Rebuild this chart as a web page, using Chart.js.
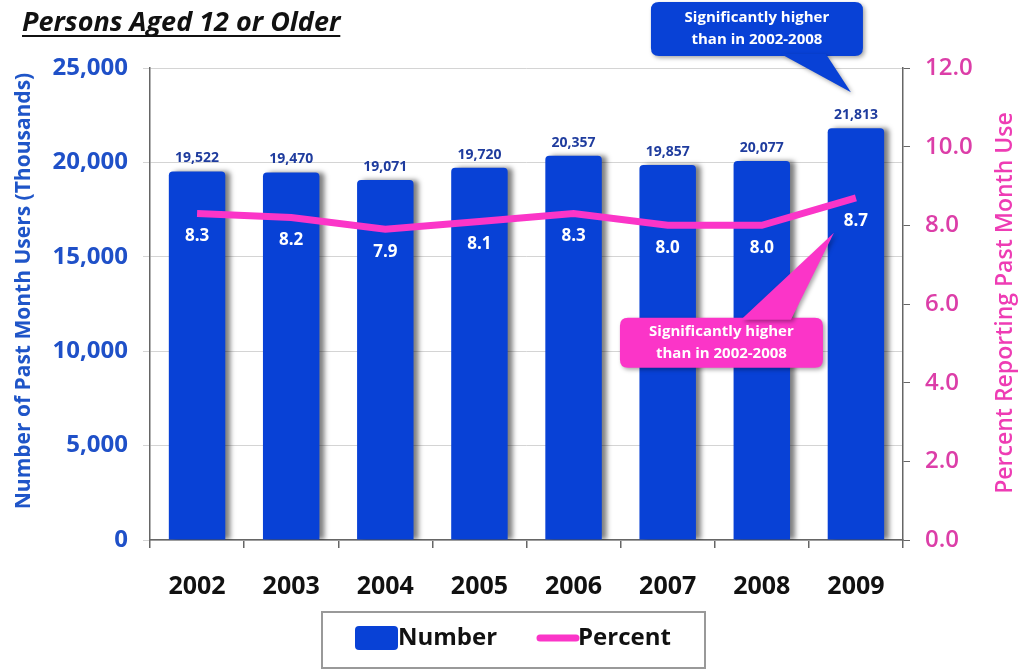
<!DOCTYPE html>
<html>
<head>
<meta charset="utf-8">
<script src="https://cdn.jsdelivr.net/npm/chart.js@4/dist/chart.umd.min.js"></script>
<style>
  html, body { margin: 0; padding: 0; background: #fff; }
  #wrap { width: 1023px; height: 669px; position: relative; }
</style>
</head>
<body>
<div id="wrap"><canvas id="usersChart"></canvas></div>
<script>
const years = ["2002", "2003", "2004", "2005", "2006", "2007", "2008", "2009"];
const numberUsers = [19522, 19470, 19071, 19720, 20357, 19857, 20077, 21813];
const percentUsers = [8.3, 8.2, 7.9, 8.1, 8.3, 8.0, 8.0, 8.7];
const leftTicks = [0, 5000, 10000, 15000, 20000, 25000];
const rightTicks = [0, 2, 4, 6, 8, 10, 12];
const titleText = "Persons Aged 12 or Older";
const leftTitle = "Number of Past Month Users (Thousands)";
const rightTitle = "Percent Reporting Past Month Use";
const calloutText = ["Significantly higher", "than in 2002-2008"];

const BLUE = "#0841d6";
const PINK = "#fb35c8";
const FONT = "'Open Sans', sans-serif";

function roundRect(ctx, x, y, w, h, r) {
    ctx.beginPath();
    ctx.moveTo(x + r, y);
    ctx.lineTo(x + w - r, y);
    ctx.quadraticCurveTo(x + w, y, x + w, y + r);
    ctx.lineTo(x + w, y + h - r);
    ctx.quadraticCurveTo(x + w, y + h, x + w - r, y + h);
    ctx.lineTo(x + r, y + h);
    ctx.quadraticCurveTo(x, y + h, x, y + h - r);
    ctx.lineTo(x, y + r);
    ctx.quadraticCurveTo(x, y, x + r, y);
    ctx.closePath();
}

function callout(ctx, box, tip, base, color) {
    ctx.save();
    ctx.shadowColor = "rgba(0,0,0,0.35)";
    ctx.shadowBlur = 4;
    ctx.shadowOffsetX = 2;
    ctx.shadowOffsetY = 2;
    ctx.fillStyle = color;
    roundRect(ctx, box.x, box.y, box.w, box.h, 8);
    ctx.fill();
    ctx.beginPath();
    ctx.moveTo(base[0], base[1]);
    ctx.lineTo(tip[0], tip[1]);
    ctx.lineTo(base[2], base[3]);
    ctx.closePath();
    ctx.fill();
    ctx.shadowColor = "transparent";
    ctx.fillStyle = "#fff";
    ctx.font = "bold 15px " + FONT;
    ctx.textAlign = "center";
    ctx.textBaseline = "middle";
    ctx.fillText(calloutText[0], box.x + box.w / 2, box.y + box.h / 2 - 11);
    ctx.fillText(calloutText[1], box.x + box.w / 2, box.y + box.h / 2 + 11);
    ctx.restore();
}

const barShadow = {
    id: "barShadow",
    beforeDatasetDraw(chart, args) {
        if (args.index !== 0) return;
        const ctx = chart.ctx;
        ctx.save();
        ctx.shadowColor = "rgba(0,0,0,0.5)";
        ctx.shadowBlur = 5;
        ctx.shadowOffsetX = 5;
    },
    afterDatasetDraw(chart, args) {
        if (args.index !== 0) return;
        chart.ctx.restore();
    }
};

const extras = {
    id: "extras",
    afterDatasetsDraw(chart) {
        const ctx = chart.ctx;
        const bars = chart.getDatasetMeta(0).data;
        const pts = chart.getDatasetMeta(1).data;
        ctx.save();
        ctx.textAlign = "center";
        ctx.textBaseline = "middle";
        bars.forEach((b, i) => {
            ctx.fillStyle = "#1f3c9e";
            ctx.font = "bold 14px " + FONT;
            ctx.fillText(numberUsers[i].toLocaleString("en-US"), b.x, b.y - 13);
        });
        pts.forEach((p, i) => {
            ctx.fillStyle = "#fff";
            ctx.font = "bold 17px " + FONT;
            ctx.fillText(percentUsers[i].toFixed(1), p.x, p.y + 23);
        });
        ctx.restore();

        // callouts for 2009
        const lb = bars[bars.length - 1];
        const lp = pts[pts.length - 1];
        callout(ctx, { x: lb.x - 205, y: 2, w: 212, h: 54 },
            [lb.x - 5, lb.y - 36], [lb.x - 75, 54, lb.x - 30, 54], BLUE);
        callout(ctx, { x: lp.x - 236, y: lp.y + 120, w: 203, h: 50 },
            [lp.x - 22, lp.y + 35], [lp.x - 115, lp.y + 122, lp.x - 65, lp.y + 122], PINK);
    },
    afterDraw(chart) {
        const ctx = chart.ctx;
        ctx.save();
        // title
        ctx.font = "italic bold 27px " + FONT;
        ctx.fillStyle = "#111";
        ctx.textBaseline = "alphabetic";
        ctx.textAlign = "left";
        const tw = ctx.measureText(titleText).width;
        ctx.fillText(titleText, 22, 31);
        ctx.fillRect(22, 35, tw, 2);

        // axis titles
        ctx.textAlign = "center";
        ctx.textBaseline = "middle";
        ctx.font = "bold 21px " + FONT;
        ctx.fillStyle = "#1f55c8";
        ctx.translate(24, 291);
        ctx.rotate(-Math.PI / 2);
        ctx.fillText(leftTitle, 0, 0);
        ctx.setTransform(1, 0, 0, 1, 0, 0);
        ctx.font = "600 23px " + FONT;
        ctx.fillStyle = "#ee3cb4";
        ctx.translate(1005, 303);
        ctx.rotate(-Math.PI / 2);
        ctx.fillText(rightTitle, 0, 0);
        ctx.setTransform(1, 0, 0, 1, 0, 0);

        // legend
        ctx.strokeStyle = "#999";
        ctx.lineWidth = 2;
        ctx.strokeRect(322, 612, 383, 56);
        const ds = chart.data.datasets;
        ctx.fillStyle = ds[0].backgroundColor;
        roundRect(ctx, 355, 626, 43, 24, 4);
        ctx.fill();
        ctx.font = "bold 24px " + FONT;
        ctx.fillStyle = "#111";
        ctx.textAlign = "left";
        ctx.fillText(ds[0].label, 398, 638);
        ctx.strokeStyle = ds[1].borderColor;
        ctx.lineWidth = 7;
        ctx.lineCap = "round";
        ctx.beginPath();
        ctx.moveTo(540, 638);
        ctx.lineTo(576, 638);
        ctx.stroke();
        ctx.fillText(ds[1].label, 578, 638);
        ctx.restore();
    }
};

new Chart(document.getElementById("usersChart"), {
    data: {
        labels: years,
        datasets: [{
            type: "bar",
            label: "Number",
            data: numberUsers,
            backgroundColor: BLUE,
            borderRadius: { topLeft: 4, topRight: 4 },
            borderSkipped: "bottom",
            barPercentage: 0.6,
            categoryPercentage: 1,
            yAxisID: "y",
            order: 2
        }, {
            type: "line",
            label: "Percent",
            data: percentUsers,
            borderColor: PINK,
            backgroundColor: PINK,
            borderWidth: 7,
            pointRadius: 0,
            tension: 0,
            yAxisID: "y1",
            order: 1
        }]
    },
    options: {
        responsive: true,
        maintainAspectRatio: false,
        animation: false,
        layout: { padding: { top: 68, left: 0, right: 0, bottom: 0 } },
        plugins: {
            legend: { display: false },
            tooltip: { enabled: false }
        },
        scales: {
            x: {
                offset: true,
                grid: { offset: true, drawOnChartArea: false, tickLength: 8, color: "#666", lineWidth: 1.5 },
                border: { color: "#666", width: 1.5 },
                ticks: { color: "#111", padding: 24, font: { family: "'Open Sans'", size: 25, weight: "bold" } },
                afterFit(s) { s.height = 129; }
            },
            y: {
                position: "left",
                min: 0, max: 25000,
                afterBuildTicks(s) { s.ticks = leftTicks.map(v => ({ value: v })); },
                grid: { color: "#d4d4d4", tickLength: 7, lineWidth: 1 },
                border: { color: "#666", width: 1.5 },
                ticks: {
                    color: "#1f50c8", padding: 15,
                    font: { family: "'Open Sans'", size: 24, weight: "bold" },
                    callback: v => v.toLocaleString("en-US")
                },
                afterFit(s) { s.width = 150; }
            },
            y1: {
                position: "right",
                min: 0, max: 12,
                afterBuildTicks(s) { s.ticks = rightTicks.map(v => ({ value: v })); },
                grid: { drawOnChartArea: false, tickLength: 7, color: "#666" },
                border: { color: "#666", width: 1.5 },
                ticks: {
                    color: "#dc3ea8", padding: 15,
                    font: { family: "'Open Sans'", size: 24, weight: "600" },
                    callback: v => v.toFixed(1)
                },
                afterFit(s) { s.width = 120; }
            }
        }
    },
    plugins: [barShadow, extras]
});
</script>
</body>
</html>
